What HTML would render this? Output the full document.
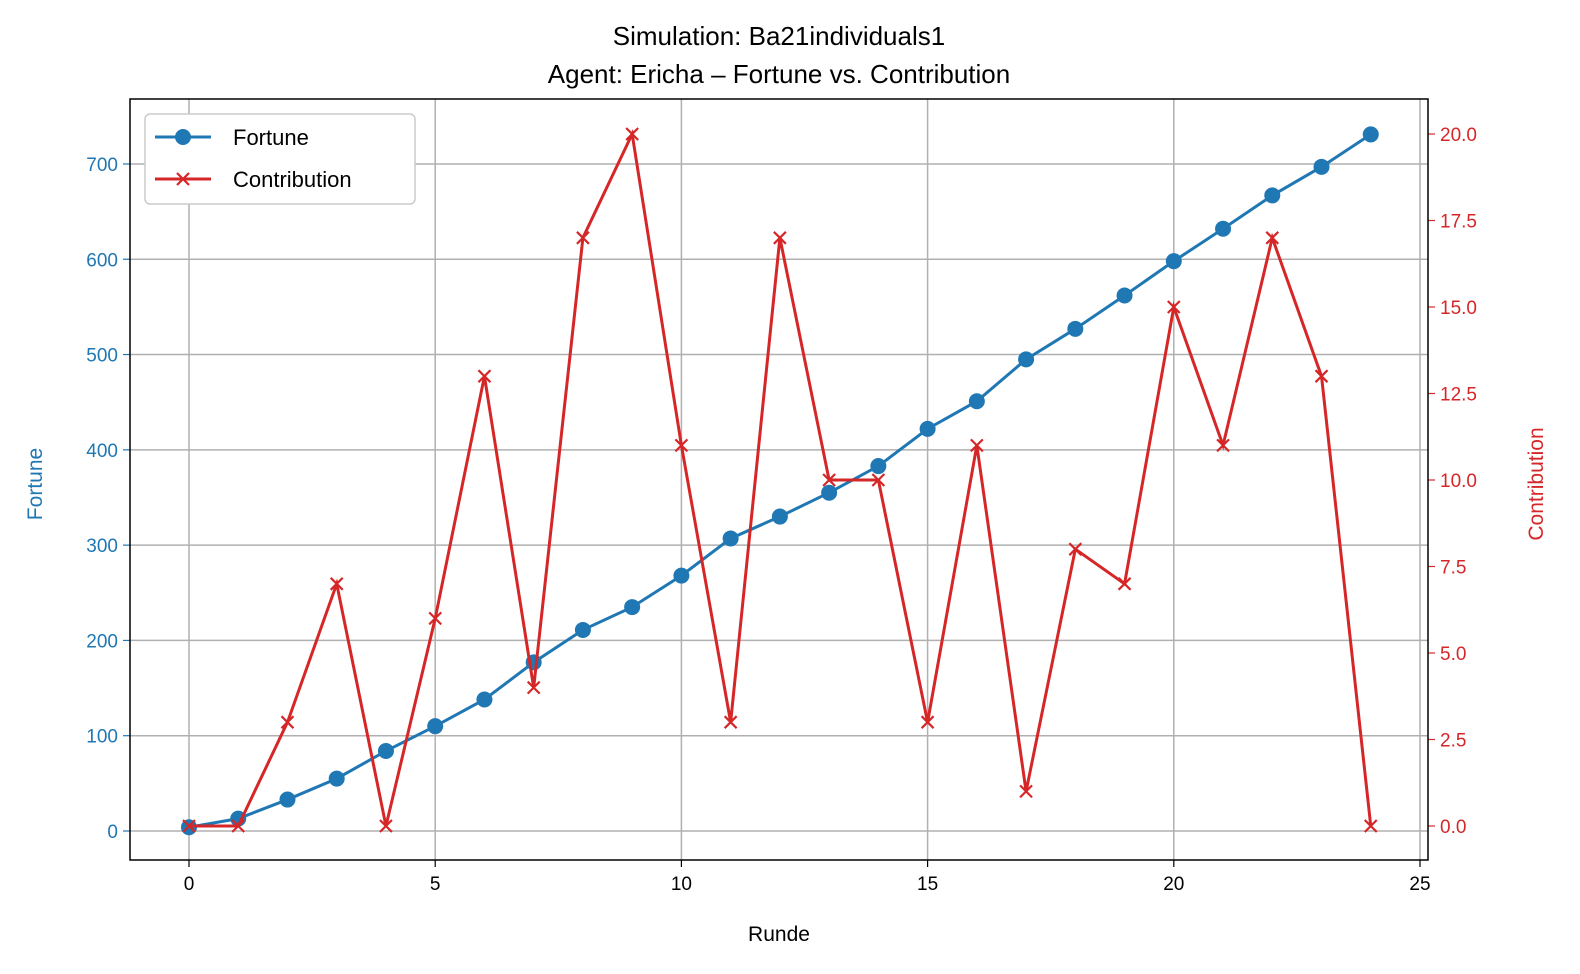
<!DOCTYPE html>
<html><head><meta charset="utf-8"><style>body{margin:0;background:#fff}svg{display:block;font-family:"Liberation Sans","DejaVu Sans",sans-serif}</style></head>
<body>
<svg id="chart" width="1580" height="974" xmlns="http://www.w3.org/2000/svg"></svg>
<script>
const rounds=[0,1,2,3,4,5,6,7,8,9,10,11,12,13,14,15,16,17,18,19,20,21,22,23,24];
const fortune=[4,13,33,55,84,110,138,177,211,235,268,307,330,355,383,422,451,495,527,562,598,632,667,697,731];
const contribution=[0,0,3,7,0,6,13,4,17,20,11,3,17,10,10,3,11,1,8,7,15,11,17,13,0];
const xTicks=[0,5,10,15,20,25];
const yLeftTicks=[0,100,200,300,400,500,600,700];
const yRightTicks=[0,2.5,5,7.5,10,12.5,15,17.5,20];
const svg=document.getElementById('chart');const NS='http://www.w3.org/2000/svg';
const L=130,R=1428,T=99,B=860;
const x=v=>189+(v)*49.24;
const yl=v=>831-v*0.9529;
const yr=v=>826-v*34.6;
function el(t,a,name,txt){const e=document.createElementNS(NS,t);for(const k in a)e.setAttribute(k,a[k]);


if(txt!==undefined)e.textContent=txt;svg.appendChild(e);return e;}
// grid
xTicks.forEach(t=>el('line',{x1:x(t),x2:x(t),y1:T,y2:B,stroke:'#b0b0b0','stroke-width':1.5},'x-grid-line'));
yLeftTicks.forEach(t=>el('line',{x1:L,x2:R,y1:yl(t),y2:yl(t),stroke:'#b0b0b0','stroke-width':1.5},'y-grid-line'));
// ticks
xTicks.forEach(t=>{el('line',{x1:x(t),x2:x(t),y1:B,y2:B+7,stroke:'#000','stroke-width':1.2},'x-tick');
el('text',{x:x(t),y:B+30,'text-anchor':'middle','font-size':19},'x-tick-label',String(t));});
yLeftTicks.forEach(t=>{el('line',{x1:L-7,x2:L,y1:yl(t),y2:yl(t),stroke:'#1f77b4','stroke-width':1.2},'y-left-tick');
el('text',{x:L-12,y:yl(t)+7,'text-anchor':'end','font-size':19,fill:'#1f77b4'},'y-left-tick-label',String(t));});
yRightTicks.forEach(t=>{el('line',{x1:R,x2:R+7,y1:yr(t),y2:yr(t),stroke:'#d62728','stroke-width':1.2},'y-right-tick');
el('text',{x:R+12,y:yr(t)+7,'font-size':19,fill:'#d62728'},'y-right-tick-label',t.toFixed(1));});
// fortune
el('polyline',{points:rounds.map((r,i)=>x(r)+','+yl(fortune[i])).join(' '),fill:'none',stroke:'#1f77b4','stroke-width':3},'fortune-line');
rounds.forEach((r,i)=>el('circle',{cx:x(r),cy:yl(fortune[i]),r:8,fill:'#1f77b4'},'fortune-point'));
// contribution
el('polyline',{points:rounds.map((r,i)=>x(r)+','+yr(contribution[i])).join(' '),fill:'none',stroke:'#d62728','stroke-width':3},'contribution-line');
rounds.forEach((r,i)=>{const cx=x(r),cy=yr(contribution[i]),s=6;
el('path',{d:`M${cx-s},${cy-s}L${cx+s},${cy+s}M${cx-s},${cy+s}L${cx+s},${cy-s}`,stroke:'#d62728','stroke-width':2.2},'contribution-point');});
// frame
el('rect',{x:L,y:T,width:R-L,height:B-T,fill:'none',stroke:'#000','stroke-width':1.5},'axes-frame');
// labels
el('text',{x:779,y:45,'text-anchor':'middle','font-size':26},'chart-title','Simulation: Ba21individuals1');
el('text',{x:779,y:83,'text-anchor':'middle','font-size':26},'chart-subtitle','Agent: Ericha – Fortune vs. Contribution');
el('text',{x:779,y:941,'text-anchor':'middle','font-size':21},'x-axis-title','Runde');
el('text',{x:0,y:0,'text-anchor':'middle','font-size':21,fill:'#1f77b4',transform:'translate(42,484) rotate(-90)'},'y-left-axis-title','Fortune');
el('text',{x:0,y:0,'text-anchor':'middle','font-size':21,fill:'#d62728',transform:'translate(1543,484) rotate(-90)'},'y-right-axis-title','Contribution');
// legend
el('rect',{x:145,y:114,width:270,height:90,rx:5,fill:'#fff',stroke:'#ccc','stroke-width':1.5},'legend-box');
el('line',{x1:155,x2:211,y1:137,y2:137,stroke:'#1f77b4','stroke-width':3},'legend-fortune-line');
el('circle',{cx:183,cy:137,r:8,fill:'#1f77b4'},'legend-fortune-marker');
el('text',{x:233,y:145,'font-size':22},'legend-fortune-label','Fortune');
el('line',{x1:155,x2:211,y1:179,y2:179,stroke:'#d62728','stroke-width':3},'legend-contribution-line');
el('path',{d:'M177,173L189,185M177,185L189,173',stroke:'#d62728','stroke-width':2.2},'legend-contribution-marker');
el('text',{x:233,y:187,'font-size':22},'legend-contribution-label','Contribution');
</script>
</body></html>
